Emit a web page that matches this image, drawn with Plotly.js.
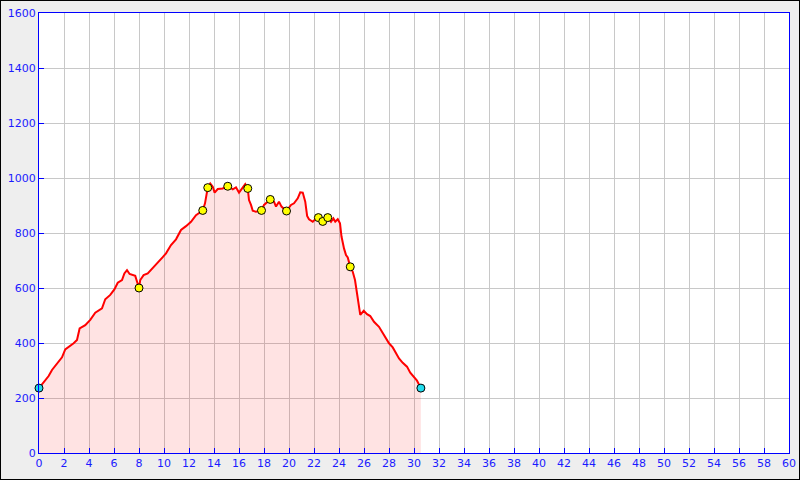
<!DOCTYPE html>
<html>
<head>
<meta charset="utf-8">
<script src="https://cdn.plot.ly/plotly-3.0.1.min.js"></script>
<style>
html,body{margin:0;padding:0;background:#eeeeee;}
#wrap{width:800px;height:480px;box-sizing:border-box;border:1px solid #000;background:#eeeeee;}
#chart{width:798px;height:478px;}
</style>
</head>
<body>
<div id="wrap"><div id="chart"></div></div>
<script>
// Elevation profile: distance (km) and elevation (m)
const distance = [0,0.37,0.77,1.04,1.44,1.84,2.1,2.5,2.77,3.04,3.25,3.7,4.1,4.5,5.04,5.3,5.7,6.03,6.3,6.64,6.83,7.04,7.25,7.7,7.84,7.92,8.0,8.1,8.37,8.7,9.1,9.5,9.9,10.16,10.56,10.96,11.36,11.76,12.16,12.56,12.8,13.1,13.28,13.36,13.5,13.7,13.9,14.05,14.3,14.7,15.1,15.5,15.76,16.0,16.3,16.5,16.7,16.8,16.96,17.1,17.36,17.8,18.0,18.5,18.8,18.96,19.2,19.4,19.8,20.16,20.4,20.7,20.9,21.1,21.3,21.45,21.6,21.9,22.1,22.35,22.7,23.1,23.36,23.55,23.7,23.9,24.08,24.2,24.4,24.56,24.7,24.9,25.1,25.28,25.44,25.55,25.7,25.98,26.24,26.5,26.8,27.2,27.5,27.76,28.0,28.3,28.56,28.8,29.1,29.44,29.7,30.0,30.24,30.55];
const elevation = [236,259,280,302,326,348,377,389,399,411,453,465,484,510,526,559,575,595,619,629,653,665,651,644,627,611,600,629,647,653,672,690,712,726,756,777,811,825,841,865,874,882,908,932,965,980,968,947,960,962,972,959,966,947,968,978,962,920,902,881,877,882,902,922,914,896,914,896,880,902,908,926,948,947,914,862,850,841,850,856,842,856,841,853,841,850,835,787,744,720,711,677,659,629,581,544,502,517,505,498,477,459,435,413,399,384,365,344,328,314,292,277,263,236];
// Waypoints
const waypointX = [8.0,13.1,13.5,15.1,16.7,17.8,18.5,19.8,22.35,22.7,23.1,24.9];
const waypointY = [600,882,965,970,962,882,922,880,856,842,856,677];
// Start / end
const endX = [0,30.55];
const endY = [236,236];
const xTicks = [0,2,4,6,8,10,12,14,16,18,20,22,24,26,28,30,32,34,36,38,40,42,44,46,48,50,52,54,56,58,60];
const yTicks = [0,200,400,600,800,1000,1200,1400,1600];

const traces = [
  {x: distance, y: elevation, type:'scatter', mode:'lines', fill:'tozeroy',
   fillcolor:'rgba(255,0,0,0.11)', line:{color:'#ff0000', width:2}, hoverinfo:'skip'},
  {x: waypointX, y: waypointY, type:'scatter', mode:'markers',
   marker:{color:'#ffff00', size:8, line:{color:'#000', width:1}}},
  {x: endX, y: endY, type:'scatter', mode:'markers', cliponaxis:false,
   marker:{color:'#22ddee', size:8, line:{color:'#000', width:1}}}
];

const axisCommon = {
  showline:true, linecolor:'#0000ff', linewidth:1, mirror:true,
  ticks:'inside', ticklen:5, tickcolor:'#0000ff', tickwidth:1,
  tickfont:{family:'DejaVu Sans', size:11, color:'#1a1aff'},
  showgrid:true, gridcolor:'#c8c8c8', gridwidth:1, zeroline:false, fixedrange:true
};

const layout = {
  width:798, height:478,
  margin:{l:38, r:10, t:12, b:26},
  paper_bgcolor:'#eeeeee', plot_bgcolor:'#ffffff',
  showlegend:false,
  xaxis: Object.assign({}, axisCommon, {range:[0,60], tickvals:xTicks, ticktext:xTicks.map(String)}),
  yaxis: Object.assign({}, axisCommon, {range:[0,1600], tickvals:yTicks, ticktext:yTicks.map(String)})
};

Plotly.newPlot('chart', traces, layout, {displayModeBar:false, staticPlot:true});
</script>
</body>
</html>
